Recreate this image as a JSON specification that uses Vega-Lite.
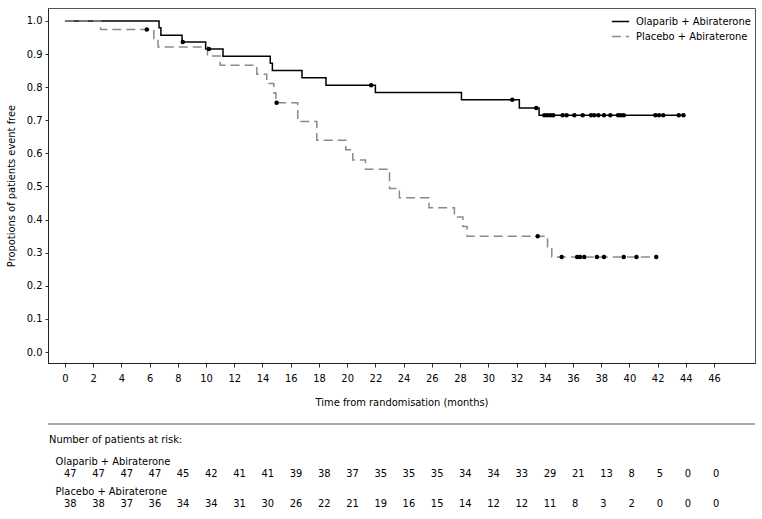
{
  "$schema": "https://vega.github.io/schema/vega-lite/v6.json",
  "background": "white",
  "padding": {"left": 4, "top": 7, "right": 6, "bottom": 0},
  "spacing": 4,
  "config": {
    "font": "DejaVu Sans Condensed, Liberation Sans, sans-serif",
    "axis": {
      "labelFontSize": 11,
      "titleFontSize": 11,
      "titleFontWeight": "normal",
      "labelColor": "#000",
      "titleColor": "#000",
      "tickColor": "#333",
      "domainColor": "#222",
      "grid": false
    },
    "legend": {
      "orient": "top-right",
      "offset": 4,
      "title": null,
      "labelFontSize": 11,
      "labelColor": "#000",
      "symbolType": "stroke",
      "symbolSize": 300,
      "symbolStrokeWidth": 1.5,
      "labelOffset": 6,
      "rowPadding": 0,
      "padding": 0
    },
    "text": {"fontSize": 11, "color": "#000"}
  },
  "datasets": {
    "curves": [
      {"arm": "Olaparib + Abiraterone", "t": 0, "s": 1.0},
      {"arm": "Olaparib + Abiraterone", "t": 6.67, "s": 0.979},
      {"arm": "Olaparib + Abiraterone", "t": 6.8, "s": 0.957},
      {"arm": "Olaparib + Abiraterone", "t": 8.3, "s": 0.936},
      {"arm": "Olaparib + Abiraterone", "t": 9.97, "s": 0.915},
      {"arm": "Olaparib + Abiraterone", "t": 11.2, "s": 0.893},
      {"arm": "Olaparib + Abiraterone", "t": 14.55, "s": 0.872},
      {"arm": "Olaparib + Abiraterone", "t": 14.7, "s": 0.85},
      {"arm": "Olaparib + Abiraterone", "t": 16.8, "s": 0.828},
      {"arm": "Olaparib + Abiraterone", "t": 18.5, "s": 0.806},
      {"arm": "Olaparib + Abiraterone", "t": 22.0, "s": 0.784},
      {"arm": "Olaparib + Abiraterone", "t": 28.1, "s": 0.762},
      {"arm": "Olaparib + Abiraterone", "t": 32.2, "s": 0.737},
      {"arm": "Olaparib + Abiraterone", "t": 33.6, "s": 0.715},
      {"arm": "Olaparib + Abiraterone", "t": 43.9, "s": 0.715},
      {"arm": "Placebo + Abiraterone", "t": 0, "s": 1.0},
      {"arm": "Placebo + Abiraterone", "t": 2.53, "s": 0.974},
      {"arm": "Placebo + Abiraterone", "t": 6.3, "s": 0.947},
      {"arm": "Placebo + Abiraterone", "t": 6.6, "s": 0.921},
      {"arm": "Placebo + Abiraterone", "t": 10.1, "s": 0.894},
      {"arm": "Placebo + Abiraterone", "t": 11.0, "s": 0.866},
      {"arm": "Placebo + Abiraterone", "t": 13.6, "s": 0.839},
      {"arm": "Placebo + Abiraterone", "t": 14.3, "s": 0.811},
      {"arm": "Placebo + Abiraterone", "t": 14.8, "s": 0.782},
      {"arm": "Placebo + Abiraterone", "t": 14.95, "s": 0.753},
      {"arm": "Placebo + Abiraterone", "t": 16.5, "s": 0.696},
      {"arm": "Placebo + Abiraterone", "t": 17.85, "s": 0.64},
      {"arm": "Placebo + Abiraterone", "t": 19.9, "s": 0.611},
      {"arm": "Placebo + Abiraterone", "t": 20.4, "s": 0.58},
      {"arm": "Placebo + Abiraterone", "t": 21.3, "s": 0.552},
      {"arm": "Placebo + Abiraterone", "t": 23.0, "s": 0.494},
      {"arm": "Placebo + Abiraterone", "t": 23.7, "s": 0.466},
      {"arm": "Placebo + Abiraterone", "t": 25.8, "s": 0.436},
      {"arm": "Placebo + Abiraterone", "t": 27.6, "s": 0.408},
      {"arm": "Placebo + Abiraterone", "t": 28.2, "s": 0.379},
      {"arm": "Placebo + Abiraterone", "t": 28.5, "s": 0.35},
      {"arm": "Placebo + Abiraterone", "t": 34.2, "s": 0.318},
      {"arm": "Placebo + Abiraterone", "t": 34.5, "s": 0.287},
      {"arm": "Placebo + Abiraterone", "t": 41.9, "s": 0.287}
    ],
    "censors": [
      {"arm": "Olaparib + Abiraterone", "t": 8.35, "s": 0.936},
      {"arm": "Olaparib + Abiraterone", "t": 10.2, "s": 0.915},
      {"arm": "Olaparib + Abiraterone", "t": 21.7, "s": 0.806},
      {"arm": "Olaparib + Abiraterone", "t": 31.7, "s": 0.762},
      {"arm": "Olaparib + Abiraterone", "t": 33.4, "s": 0.737},
      {"arm": "Olaparib + Abiraterone", "t": 33.97, "s": 0.715},
      {"arm": "Olaparib + Abiraterone", "t": 34.18, "s": 0.715},
      {"arm": "Olaparib + Abiraterone", "t": 34.4, "s": 0.715},
      {"arm": "Olaparib + Abiraterone", "t": 34.6, "s": 0.715},
      {"arm": "Olaparib + Abiraterone", "t": 35.27, "s": 0.715},
      {"arm": "Olaparib + Abiraterone", "t": 35.55, "s": 0.715},
      {"arm": "Olaparib + Abiraterone", "t": 36.1, "s": 0.715},
      {"arm": "Olaparib + Abiraterone", "t": 36.69, "s": 0.715},
      {"arm": "Olaparib + Abiraterone", "t": 37.28, "s": 0.715},
      {"arm": "Olaparib + Abiraterone", "t": 37.5, "s": 0.715},
      {"arm": "Olaparib + Abiraterone", "t": 37.8, "s": 0.715},
      {"arm": "Olaparib + Abiraterone", "t": 38.2, "s": 0.715},
      {"arm": "Olaparib + Abiraterone", "t": 38.65, "s": 0.715},
      {"arm": "Olaparib + Abiraterone", "t": 39.2, "s": 0.715},
      {"arm": "Olaparib + Abiraterone", "t": 39.4, "s": 0.715},
      {"arm": "Olaparib + Abiraterone", "t": 39.6, "s": 0.715},
      {"arm": "Olaparib + Abiraterone", "t": 41.84, "s": 0.715},
      {"arm": "Olaparib + Abiraterone", "t": 42.1, "s": 0.715},
      {"arm": "Olaparib + Abiraterone", "t": 42.4, "s": 0.715},
      {"arm": "Olaparib + Abiraterone", "t": 43.5, "s": 0.715},
      {"arm": "Olaparib + Abiraterone", "t": 43.83, "s": 0.715},
      {"arm": "Placebo + Abiraterone", "t": 5.8, "s": 0.974},
      {"arm": "Placebo + Abiraterone", "t": 15.0, "s": 0.753},
      {"arm": "Placebo + Abiraterone", "t": 33.5, "s": 0.35},
      {"arm": "Placebo + Abiraterone", "t": 35.2, "s": 0.287},
      {"arm": "Placebo + Abiraterone", "t": 36.3, "s": 0.287},
      {"arm": "Placebo + Abiraterone", "t": 36.5, "s": 0.287},
      {"arm": "Placebo + Abiraterone", "t": 36.8, "s": 0.287},
      {"arm": "Placebo + Abiraterone", "t": 37.7, "s": 0.287},
      {"arm": "Placebo + Abiraterone", "t": 38.2, "s": 0.287},
      {"arm": "Placebo + Abiraterone", "t": 39.6, "s": 0.287},
      {"arm": "Placebo + Abiraterone", "t": 40.5, "s": 0.287},
      {"arm": "Placebo + Abiraterone", "t": 41.9, "s": 0.287}
    ],
    "risk": [
      {"arm": "Olaparib + Abiraterone", "month": 0, "n": 47},
      {"arm": "Olaparib + Abiraterone", "month": 2, "n": 47},
      {"arm": "Olaparib + Abiraterone", "month": 4, "n": 47},
      {"arm": "Olaparib + Abiraterone", "month": 6, "n": 47},
      {"arm": "Olaparib + Abiraterone", "month": 8, "n": 45},
      {"arm": "Olaparib + Abiraterone", "month": 10, "n": 42},
      {"arm": "Olaparib + Abiraterone", "month": 12, "n": 41},
      {"arm": "Olaparib + Abiraterone", "month": 14, "n": 41},
      {"arm": "Olaparib + Abiraterone", "month": 16, "n": 39},
      {"arm": "Olaparib + Abiraterone", "month": 18, "n": 38},
      {"arm": "Olaparib + Abiraterone", "month": 20, "n": 37},
      {"arm": "Olaparib + Abiraterone", "month": 22, "n": 35},
      {"arm": "Olaparib + Abiraterone", "month": 24, "n": 35},
      {"arm": "Olaparib + Abiraterone", "month": 26, "n": 35},
      {"arm": "Olaparib + Abiraterone", "month": 28, "n": 34},
      {"arm": "Olaparib + Abiraterone", "month": 30, "n": 34},
      {"arm": "Olaparib + Abiraterone", "month": 32, "n": 33},
      {"arm": "Olaparib + Abiraterone", "month": 34, "n": 29},
      {"arm": "Olaparib + Abiraterone", "month": 36, "n": 21},
      {"arm": "Olaparib + Abiraterone", "month": 38, "n": 13},
      {"arm": "Olaparib + Abiraterone", "month": 40, "n": 8},
      {"arm": "Olaparib + Abiraterone", "month": 42, "n": 5},
      {"arm": "Olaparib + Abiraterone", "month": 44, "n": 0},
      {"arm": "Olaparib + Abiraterone", "month": 46, "n": 0},
      {"arm": "Placebo + Abiraterone", "month": 0, "n": 38},
      {"arm": "Placebo + Abiraterone", "month": 2, "n": 38},
      {"arm": "Placebo + Abiraterone", "month": 4, "n": 37},
      {"arm": "Placebo + Abiraterone", "month": 6, "n": 36},
      {"arm": "Placebo + Abiraterone", "month": 8, "n": 34},
      {"arm": "Placebo + Abiraterone", "month": 10, "n": 34},
      {"arm": "Placebo + Abiraterone", "month": 12, "n": 31},
      {"arm": "Placebo + Abiraterone", "month": 14, "n": 30},
      {"arm": "Placebo + Abiraterone", "month": 16, "n": 26},
      {"arm": "Placebo + Abiraterone", "month": 18, "n": 22},
      {"arm": "Placebo + Abiraterone", "month": 20, "n": 21},
      {"arm": "Placebo + Abiraterone", "month": 22, "n": 19},
      {"arm": "Placebo + Abiraterone", "month": 24, "n": 16},
      {"arm": "Placebo + Abiraterone", "month": 26, "n": 15},
      {"arm": "Placebo + Abiraterone", "month": 28, "n": 14},
      {"arm": "Placebo + Abiraterone", "month": 30, "n": 12},
      {"arm": "Placebo + Abiraterone", "month": 32, "n": 12},
      {"arm": "Placebo + Abiraterone", "month": 34, "n": 11},
      {"arm": "Placebo + Abiraterone", "month": 36, "n": 8},
      {"arm": "Placebo + Abiraterone", "month": 38, "n": 3},
      {"arm": "Placebo + Abiraterone", "month": 40, "n": 2},
      {"arm": "Placebo + Abiraterone", "month": 42, "n": 0},
      {"arm": "Placebo + Abiraterone", "month": 44, "n": 0},
      {"arm": "Placebo + Abiraterone", "month": 46, "n": 0}
    ],
    "arms": [
      {"arm": "Olaparib + Abiraterone"},
      {"arm": "Placebo + Abiraterone"}
    ]
  },
  "vconcat": [
    {
      "width": 707,
      "height": 355,
      "view": {"stroke": "#555", "strokeWidth": 1},
      "encoding": {
        "x": {
          "field": "t", "type": "quantitative",
          "scale": {"domain": [-1.2, 48.9], "nice": false, "zero": false},
          "axis": {
            "title": "Time from randomisation (months)",
            "values": [0, 2, 4, 6, 8, 10, 12, 14, 16, 18, 20, 22, 24, 26, 28, 30, 32, 34, 36, 38, 40, 42, 44, 46],
            "tickSize": 4, "labelPadding": 5, "titlePadding": 13,
            "labelOverlap": false, "labelFlush": false
          }
        },
        "y": {
          "field": "s", "type": "quantitative",
          "scale": {"domain": [-0.033, 1.039], "nice": false, "zero": false},
          "axis": {
            "title": "Propotions of patients event free",
            "values": [0, 0.1, 0.2, 0.3, 0.4, 0.5, 0.6, 0.7, 0.8, 0.9, 1.0],
            "format": ".1f",
            "tickSize": 3, "labelPadding": 3, "titlePadding": 10,
            "labelOverlap": false, "labelFlush": false
          }
        }
      },
      "layer": [
        {
          "data": {"name": "curves"},
          "mark": {"type": "line", "interpolate": "step-after", "strokeWidth": 1.5},
          "encoding": {
            "color": {
              "field": "arm", "type": "nominal",
              "scale": {"domain": ["Olaparib + Abiraterone", "Placebo + Abiraterone"], "range": ["#000000", "#8a8a8a"]}
            },
            "strokeDash": {
              "field": "arm", "type": "nominal",
              "scale": {"domain": ["Olaparib + Abiraterone", "Placebo + Abiraterone"], "range": [[1, 0], [9, 5]]}
            }
          }
        },
        {
          "data": {"name": "censors"},
          "mark": {"type": "point", "filled": true, "color": "#000", "size": 20, "opacity": 1}
        }
      ]
    },
    {
      "width": 707,
      "height": 106,
      "view": {"stroke": null},
      "layer": [
        {
          "data": {"name": "risk"},
          "mark": {"type": "text", "align": "left", "baseline": "middle", "dx": -1},
          "encoding": {
            "x": {
              "field": "month", "type": "quantitative",
              "scale": {"domain": [-1.2, 48.9], "nice": false, "zero": false},
              "axis": null
            },
            "y": {
              "field": "arm", "type": "nominal",
              "scale": {"type": "point", "domain": ["Olaparib + Abiraterone", "Placebo + Abiraterone"], "range": [62, 92], "padding": 0},
              "axis": null
            },
            "text": {"field": "n", "type": "quantitative"}
          }
        },
        {
          "data": {"name": "arms"},
          "mark": {"type": "text", "align": "left", "baseline": "middle", "dy": -12},
          "encoding": {
            "x": {"datum": -0.66, "type": "quantitative"},
            "y": {"field": "arm", "type": "nominal"},
            "text": {"field": "arm", "type": "nominal"}
          }
        },
        {
          "data": {"values": [{"label": "Number of patients at risk:"}]},
          "mark": {"type": "text", "align": "left", "baseline": "middle", "dy": -34},
          "encoding": {
            "x": {"datum": -1.13, "type": "quantitative"},
            "y": {"datum": "Olaparib + Abiraterone", "type": "nominal"},
            "text": {"field": "label", "type": "nominal"}
          }
        },
        {
          "data": {"values": [{"label": "separator"}]},
          "mark": {"type": "rule", "color": "#aaaaaa", "strokeWidth": 2, "yOffset": -50},
          "encoding": {
            "x": {"datum": -1.2, "type": "quantitative"},
            "x2": {"datum": 48.9},
            "y": {"datum": "Olaparib + Abiraterone", "type": "nominal"}
          }
        }
      ]
    }
  ]
}
